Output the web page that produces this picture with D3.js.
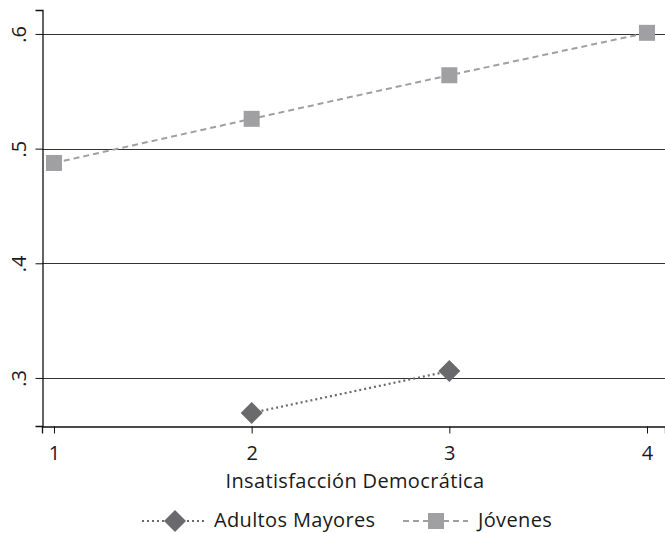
<!DOCTYPE html>
<html>
<head>
<meta charset="utf-8">
<script src="https://cdn.jsdelivr.net/npm/d3@7"></script>
<style>
  html, body { margin: 0; padding: 0; background: #fff; }
  svg { display: block; }
  text { font-family: "Open Sans", Lato, sans-serif; font-weight: 400; fill: #1a1a1a; }
</style>
</head>
<body>
<svg id="chart" width="665" height="533"></svg>
<script>
// Predicted values by level of democratic dissatisfaction
const xCategories = [1, 2, 3, 4];
const yTicks = [0.3, 0.4, 0.5, 0.6];
const yTickLabels = [".3", ".4", ".5", ".6"];
const adultosX = [2, 3];
const adultosY = [0.2695, 0.306];
const jovenesX = [1, 2, 3, 4];
const jovenesY = [0.4875, 0.526, 0.564, 0.601];
const seriesNames = ["Adultos Mayores", "Jóvenes"];
const xTitle = "Insatisfacción Democrática";

const svg = d3.select("#chart");
const plotLeft = 42, plotRight = 665, plotTop = 10, plotBottom = 426;
const fontFam = "'Open Sans', Lato, sans-serif";

const x = d3.scaleLinear().domain([0.9393, 4.091]).range([plotLeft, plotRight]);
const y = d3.scaleLinear().domain([0.2581, 0.6209]).range([plotBottom, plotTop]);

const colAdultos = "#6a6a6c";
const colJovenes = "#a0a0a2";

// horizontal gridlines
svg.append("g").selectAll("line").data(yTicks).join("line")
  .attr("x1", plotLeft).attr("x2", plotRight)
  .attr("y1", d => Math.round(y(d)) + 0.5).attr("y2", d => Math.round(y(d)) + 0.5)
  .attr("stroke", "#333").attr("stroke-width", 1.2);

// y axis
const yAxis = d3.axisLeft(y).tickValues(yTicks).tickSize(7)
  .tickFormat((d, i) => yTickLabels[i]);
const gy = svg.append("g").attr("transform", `translate(${plotLeft + 0.5},0)`).call(yAxis);
gy.select(".domain").attr("stroke", "#111").attr("stroke-width", 1.3);
gy.selectAll(".tick line").attr("stroke", "#111");
gy.selectAll(".tick text")
  .attr("x", 0).attr("dy", 0)
  .attr("transform", "translate(-16.5,0) rotate(-90)")
  .attr("text-anchor", "middle")
  .style("font-size", "20px")
  .style("font-family", fontFam);

// x axis
const xAxis = d3.axisBottom(x).tickValues(xCategories).tickSize(7).tickPadding(8)
  .tickFormat(d3.format("d"));
const gx = svg.append("g").attr("transform", `translate(0,${plotBottom + 0.5})`).call(xAxis);
gx.select(".domain").attr("stroke", "#111").attr("stroke-width", 1.3);
gx.selectAll(".tick line").attr("stroke", "#111");
gx.selectAll(".tick text").attr("dy", 0).attr("y", 33)
  .style("font-size", "20px").style("font-family", fontFam);

svg.append("text").attr("x", 355).attr("y", 488)
  .attr("text-anchor", "middle").style("font-size", "20px").style("letter-spacing", "0.35px")
  .text(xTitle);

const line = d3.line().x(d => x(d[0])).y(d => y(d[1]));
const jov = jovenesX.map((v, i) => [v, jovenesY[i]]);
const adu = adultosX.map((v, i) => [v, adultosY[i]]);

svg.append("path").datum(jov).attr("d", line).attr("fill", "none")
  .attr("stroke", colJovenes).attr("stroke-width", 2).attr("stroke-dasharray", "6,4");
svg.append("path").datum(adu).attr("d", line).attr("fill", "none")
  .attr("stroke", colAdultos).attr("stroke-width", 2.2).attr("stroke-dasharray", "2,3");

const sq = 16;
svg.append("g").selectAll("rect").data(jov).join("rect")
  .attr("x", d => x(d[0]) - sq / 2).attr("y", d => y(d[1]) - sq / 2)
  .attr("width", sq).attr("height", sq).attr("fill", colJovenes);

const dm = 11;
const diamond = (cx, cy) => `M${cx},${cy - dm}L${cx + dm},${cy}L${cx},${cy + dm}L${cx - dm},${cy}Z`;
svg.append("g").selectAll("path").data(adu).join("path")
  .attr("d", d => diamond(x(d[0]), y(d[1]))).attr("fill", colAdultos);

// legend
const ly = 521;
const lg = svg.append("g");
lg.append("line").attr("x1", 142).attr("x2", 206).attr("y1", ly).attr("y2", ly)
  .attr("stroke", colAdultos).attr("stroke-width", 2.2).attr("stroke-dasharray", "2,3");
lg.append("path").attr("d", diamond(175, ly)).attr("fill", colAdultos);
lg.append("text").attr("x", 214).attr("y", ly + 6).style("font-size", "20px")
  .style("letter-spacing", "0.35px").text(seriesNames[0]);

lg.append("line").attr("x1", 403).attr("x2", 468).attr("y1", ly).attr("y2", ly)
  .attr("stroke", colJovenes).attr("stroke-width", 2).attr("stroke-dasharray", "6,4");
lg.append("rect").attr("x", 436 - sq / 2).attr("y", ly - sq / 2).attr("width", sq).attr("height", sq)
  .attr("fill", colJovenes);
lg.append("text").attr("x", 478).attr("y", ly + 6).style("font-size", "20px")
  .style("letter-spacing", "0.35px").text(seriesNames[1]);
</script>
</body>
</html>
